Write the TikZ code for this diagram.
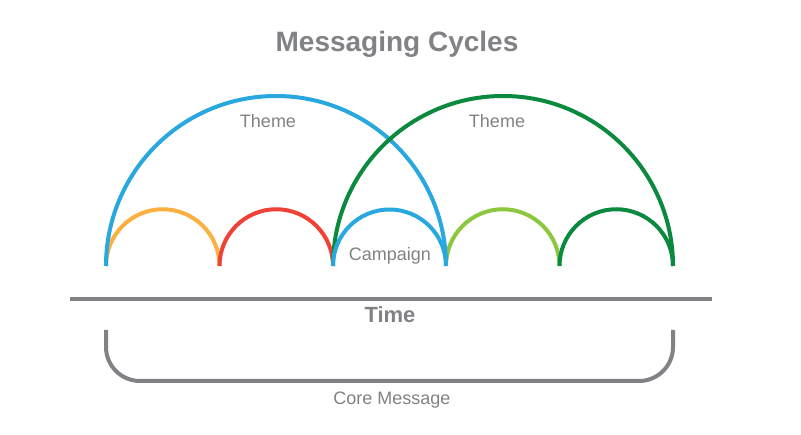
\documentclass[tikz,border=0pt]{standalone}
\usepackage{fontspec}
\setmainfont{Liberation Sans}
\definecolor{cblue}{HTML}{29A8E0}
\definecolor{cgreen}{HTML}{0B8A3F}
\definecolor{corange}{HTML}{FBB040}
\definecolor{cred}{HTML}{EF4136}
\definecolor{clgreen}{HTML}{8DC63F}
\definecolor{cgray}{HTML}{808285}
\begin{document}
\begin{tikzpicture}[x=1pt,y=-1pt,
  arcline/.style={line width=4pt},
  lbl/.style={text=cgray,font=\fontsize{18}{18}\selectfont,inner sep=0pt}]
\useasboundingbox (0,0) rectangle (801,435);
% baseline coordinates
\coordinate (p0) at (106,266);
\coordinate (p1) at (219.5,266);
\coordinate (p2) at (333,266);
\coordinate (p3) at (446,266);
\coordinate (p4) at (559.5,266);
\coordinate (p5) at (673,266);
% small arcs
\draw[arcline,corange] (p0) arc[start angle=180,end angle=360,radius=56.75];
\draw[arcline,cred] (p1) arc[start angle=180,end angle=360,radius=56.75];
\draw[arcline,clgreen] (p3) arc[start angle=180,end angle=360,radius=56.75];
\draw[arcline,cgreen] (p4) arc[start angle=180,end angle=360,radius=56.75];
% large arcs
\draw[arcline,cblue] (p0) arc[start angle=180,end angle=360,radius=170];
\draw[arcline,cgreen] (p2) arc[start angle=180,end angle=360,radius=170];
\draw[arcline,cblue] (p2) arc[start angle=180,end angle=360,radius=56.5];
% timeline
\coordinate (tl) at (70,299);
\coordinate (tr) at (712,299);
\draw[line width=4pt,cgray] (tl) -- (tr);
% bracket
\coordinate (bl) at (106,330);
\coordinate (br) at (673,330);
\draw[line width=4pt,cgray,rounded corners=34pt] (bl) -- (106,381) -- (673,381) -- (br);
% texts
\node[text=cgray,font=\bfseries\fontsize{28}{28}\selectfont,inner sep=0pt] (title) at (397,44) {Messaging Cycles};
\node[lbl] (theme1) at (268,121) {Theme};
\node[lbl] (theme2) at (497,121) {Theme};
\node[lbl] (camp) at (390,256) {Campaign};
\node[text=cgray,font=\bfseries\fontsize{22}{22}\selectfont,inner sep=0pt] (time) at (390,315) {Time};
\node[lbl] (core) at (392,400) {Core Message};
\end{tikzpicture}
\end{document}
